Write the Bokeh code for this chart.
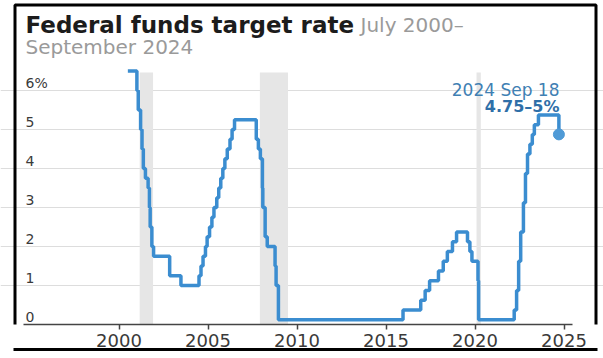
from datetime import date
from bokeh.plotting import figure
from bokeh.models import FixedTicker, Grid, Label, BoxAnnotation, LinearAxis
from bokeh.core.properties import value
from bokeh.embed import file_html
from bokeh.resources import INLINE

# ---------------- data ----------------
change_dates = [
    "2000-07-01", "2001-01-03", "2001-01-31", "2001-03-20", "2001-04-18",
    "2001-05-15", "2001-06-27", "2001-08-21", "2001-09-17", "2001-10-02",
    "2001-11-06", "2001-12-11", "2002-11-06", "2003-06-25", "2004-06-30",
    "2004-08-10", "2004-09-21", "2004-11-10", "2004-12-14", "2005-02-02",
    "2005-03-22", "2005-05-03", "2005-06-30", "2005-08-09", "2005-09-20",
    "2005-11-01", "2005-12-13", "2006-01-31", "2006-03-28", "2006-05-10",
    "2006-06-29", "2007-09-18", "2007-10-31", "2007-12-11", "2008-01-22",
    "2008-01-30", "2008-03-18", "2008-04-30", "2008-10-08", "2008-10-29",
    "2008-12-16", "2015-12-16", "2016-12-14", "2017-03-15", "2017-06-14",
    "2017-12-13", "2018-03-21", "2018-06-13", "2018-09-26", "2018-12-19",
    "2019-07-31", "2019-09-18", "2019-10-30", "2020-03-03", "2020-03-15",
    "2022-03-16", "2022-05-04", "2022-06-15", "2022-07-27", "2022-09-21",
    "2022-11-02", "2022-12-14", "2023-02-01", "2023-03-22", "2023-05-03",
    "2023-07-26", "2024-09-18",
]
target_rate = [
    6.5, 6.0, 5.5, 5.0, 4.5,
    4.0, 3.75, 3.5, 3.0, 2.5,
    2.0, 1.75, 1.25, 1.0, 1.25,
    1.5, 1.75, 2.0, 2.25, 2.5,
    2.75, 3.0, 3.25, 3.5, 3.75,
    4.0, 4.25, 4.5, 4.75, 5.0,
    5.25, 4.75, 4.5, 4.25, 3.5,
    3.0, 2.25, 2.0, 1.5, 1.0,
    0.125, 0.375, 0.625, 0.875, 1.125,
    1.375, 1.625, 1.875, 2.125, 2.375,
    2.125, 1.875, 1.625, 1.125, 0.125,
    0.375, 0.875, 1.625, 2.375, 3.125,
    3.875, 4.375, 4.625, 4.875, 5.125,
    5.375, 4.875,
]
recession_start = ["2001-03-01", "2007-12-01", "2020-02-01"]
recession_end = ["2001-11-30", "2009-06-30", "2020-04-30"]

y_ticks = [0, 1, 2, 3, 4, 5, 6]
y_tick_labels = ["0", "1", "2", "3", "4", "5", "6%"]
x_ticks = [2000, 2005, 2010, 2015, 2020, 2025]

title_main = "Federal funds target rate"
title_sub_a = "July 2000\u2013"
title_sub_b = "September 2024"
note_date = "2024 Sep 18"
note_value = "4.75\u20135%"


def dec_year(s):
    y, m, d = map(int, s.split("-"))
    n = (date(y + 1, 1, 1) - date(y, 1, 1)).days
    return y + (date(y, m, d) - date(y, 1, 1)).days / n


xs = [dec_year(s) for s in change_dates]
rs = [dec_year(s) for s in recession_start]
re_ = [dec_year(s) for s in recession_end]

# ---------------- geometry helpers ----------------
W, H = 603, 358
BOTTOM = 34
FRAME_H = H - BOTTOM
PXX = 17.8
X0 = 2000 - 118.5 / PXX
X1 = X0 + W / PXX
PXY = 39.0
Y1 = FRAME_H / PXY


def cx(px):
    return X0 + px / PXX


def cy(py):
    return (FRAME_H - py) / PXY


BLUE = "#3b8dd0"
FONT = "DejaVu Sans"

p = figure(width=W, height=H, output_backend="svg", toolbar_location=None,
           x_range=(X0, X1), y_range=(0, Y1), y_axis_location=None,
           min_border_left=0, min_border_right=0, min_border_top=0,
           min_border_bottom=BOTTOM, outline_line_color=None,
           background_fill_color="white", border_fill_color="white")

p.xgrid.visible = False
p.ygrid.visible = False

p.add_layout(Grid(dimension=1, ticker=FixedTicker(ticks=y_ticks),
                  bounds=(cx(25), cx(568)), grid_line_color="#dddddd",
                  grid_line_width=1))

ax = p.xaxis[0]
ax.ticker = FixedTicker(ticks=x_ticks)
ax.bounds = (cx(23), cx(572))
ax.axis_line_color = "#444444"
ax.axis_line_width = 1.5
ax.major_tick_line_color = "#444444"
ax.major_tick_line_width = 1.5
ax.major_tick_in = 0
ax.major_tick_out = 5
ax.minor_tick_line_color = None
ax.major_label_standoff = 4
ax.major_label_text_font = FONT
ax.major_label_text_font_size = "18px"
ax.major_label_text_color = "#3a3a3a"

# second, bare axis below: its line is the bottom edge of the black frame
frame_axis = LinearAxis(ticker=FixedTicker(ticks=[]), bounds=(cx(13), cx(597)),
                        axis_line_color="black", axis_line_width=3,
                        major_tick_line_color=None, minor_tick_line_color=None,
                        major_tick_in=0, major_tick_out=0,
                        major_label_standoff=0,
                        major_label_text_font_size="0px")
p.add_layout(frame_axis, "below")

# recession bands
p.quad(left=rs, right=re_, bottom=0, top=6.46, fill_color="#e6e6e6",
       line_color=None)

# y tick labels sitting above their grid lines
p.text(x=[cx(25)] * len(y_ticks), y=[t + 8 / PXY for t in y_ticks],
       text=y_tick_labels, text_baseline="middle", text_align="left",
       text_font=value(FONT), text_font_size="14px", text_color="#3a3a3a")

# series
p.step(x=xs, y=target_rate, mode="after", line_width=3.5, line_color=BLUE)
p.scatter(x=[xs[-1]], y=[target_rate[-1]], size=11, color="#4f9ad6")

# annotation
p.add_layout(Label(x=cx(559), y=cy(89), text=note_date, text_align="right",
                   text_baseline="alphabetic", text_font=FONT,
                   text_font_size="17px", text_color="#3f80b3"))
p.add_layout(Label(x=cx(559), y=cy(106), text=note_value, text_align="right",
                   text_baseline="alphabetic", text_font=FONT,
                   text_font_style="bold", text_font_size="16px",
                   text_color="#2f6fa8"))

# titles
p.add_layout(Label(x=cx(25), y=cy(24), text=title_main, text_align="left",
                   text_baseline="alphabetic", text_font=FONT,
                   text_font_style="bold", text_font_size="23px",
                   text_color="#1c1c1c"))
p.add_layout(Label(x=cx(360), y=cy(24), text=title_sub_a, text_align="left",
                   text_baseline="alphabetic", text_font=FONT,
                   text_font_size="20px", text_color="#9a9a9a"))
p.add_layout(Label(x=cx(25), y=cy(46), text=title_sub_b, text_align="left",
                   text_baseline="alphabetic", text_font=FONT,
                   text_font_size="20px", text_color="#9a9a9a"))

# outer black frame: top, left and right edges (canvas units, top-left origin)
p.add_layout(BoxAnnotation(left=14.5, right=595.5, top=4.5, bottom=355.5,
                           left_units="canvas", right_units="canvas",
                           top_units="canvas", bottom_units="canvas",
                           fill_color=None, line_color="black",
                           line_alpha=1.0, line_width=3))

open("out.html", "w").write(file_html(p, INLINE))
